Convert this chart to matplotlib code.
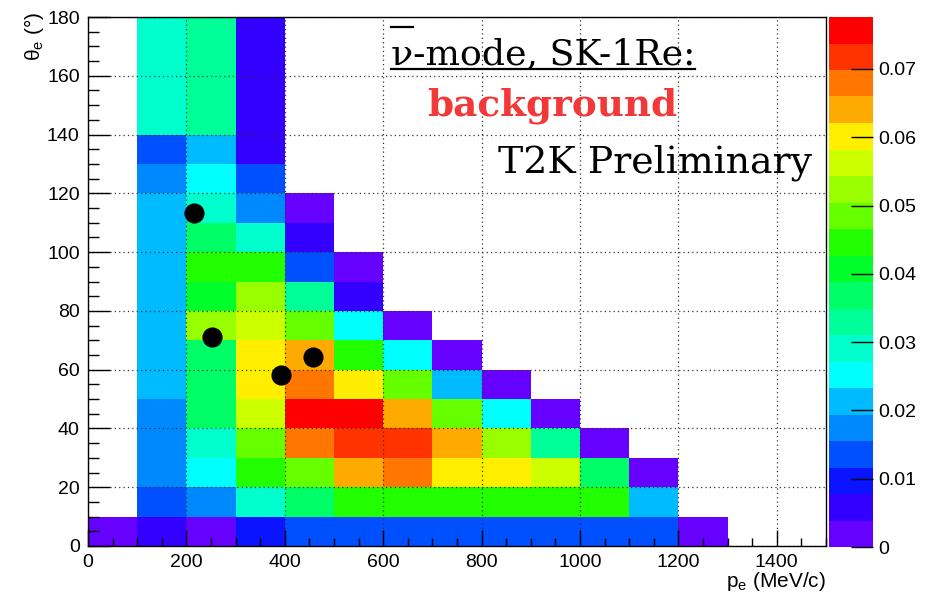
import numpy as np
import matplotlib
matplotlib.use("Agg")
import matplotlib.pyplot as plt
from matplotlib.colors import ListedColormap, BoundaryNorm
from matplotlib.ticker import MultipleLocator, FuncFormatter
from matplotlib.lines import Line2D

W, H = 931, 597
plt.rcParams["font.family"] = ["Liberation Sans", "DejaVu Sans"]
plt.rcParams["mathtext.fontset"] = "custom"
plt.rcParams["mathtext.rm"] = "Liberation Sans"
plt.rcParams["mathtext.it"] = "Liberation Sans:italic"

# ---------------- data ----------------
p_edges = [0, 100, 200, 300, 400, 500, 600, 700, 800, 900, 1000, 1100, 1200, 1300]
theta_edges = [0, 10, 20, 30, 40, 50, 60, 70, 80, 90, 100, 110, 120, 130, 140, 180]
n = np.nan
# one row per theta bin (bottom to top), one entry per p bin
density = [
    [0.0019, 0.0058, 0.0019, 0.0097, 0.0136, 0.0136, 0.0136, 0.0136, 0.0136, 0.0136, 0.0136, 0.0136, 0.0019],
    [n, 0.0136, 0.0175, 0.0291, 0.0369, 0.0446, 0.0446, 0.0446, 0.0446, 0.0446, 0.0446, 0.0213, n],
    [n, 0.0175, 0.0252, 0.0446, 0.0485, 0.0640, 0.0679, 0.0602, 0.0602, 0.0563, 0.0369, 0.0019, n],
    [n, 0.0175, 0.0291, 0.0485, 0.0679, 0.0718, 0.0718, 0.0640, 0.0524, 0.0330, 0.0019, n, n],
    [n, 0.0175, 0.0369, 0.0563, 0.0757, 0.0757, 0.0640, 0.0485, 0.0252, 0.0019, n, n, n],
    [n, 0.0213, 0.0369, 0.0602, 0.0679, 0.0602, 0.0485, 0.0213, 0.0019, n, n, n, n],
    [n, 0.0213, 0.0369, 0.0602, 0.0640, 0.0446, 0.0252, 0.0019, n, n, n, n, n],
    [n, 0.0213, 0.0524, 0.0563, 0.0485, 0.0252, 0.0019, n, n, n, n, n, n],
    [n, 0.0213, 0.0407, 0.0524, 0.0330, 0.0058, n, n, n, n, n, n, n],
    [n, 0.0213, 0.0446, 0.0446, 0.0136, 0.0019, n, n, n, n, n, n, n],
    [n, 0.0213, 0.0369, 0.0291, 0.0058, n, n, n, n, n, n, n, n],
    [n, 0.0213, 0.0291, 0.0175, 0.0019, n, n, n, n, n, n, n, n],
    [n, 0.0175, 0.0252, 0.0136, n, n, n, n, n, n, n, n, n],
    [n, 0.0136, 0.0213, 0.0058, n, n, n, n, n, n, n, n, n],
    [n, 0.0291, 0.0330, 0.0058, n, n, n, n, n, n, n, n, n],
]
z_max = 0.0776
cbar_ticks = [0, 0.01, 0.02, 0.03, 0.04, 0.05, 0.06, 0.07]
x_ticks = [0, 200, 400, 600, 800, 1000, 1200, 1400]
y_ticks = [0, 20, 40, 60, 80, 100, 120, 140, 160, 180]

data_p = [215, 252, 392, 457]
data_theta = [113.3, 71.1, 58.2, 64.3]

palette = ["#6600ff", "#3300ff", "#0a14ff", "#0050ff", "#0088ff", "#00bbff",
           "#00ffff", "#00ffcc", "#00ff99", "#00ff66", "#00ff2a", "#22ff00",
           "#66ff00", "#99ff00", "#ccff00", "#ffee00", "#ffaa00", "#ff7700",
           "#ff3300", "#ff0000"]

# ---------------- figure ----------------
fig = plt.figure(figsize=(W / 100, H / 100), dpi=100)
fig.patch.set_facecolor("white")

def fx(px):
    return px / W

def fy(py):
    return 1 - py / H

ax = fig.add_axes([fx(88), fy(546), (826 - 88) / W, (546 - 17) / H])

cmap = ListedColormap(palette)
levels = np.linspace(0, z_max, len(palette) + 1)
norm = BoundaryNorm(levels, cmap.N)
Z = np.ma.masked_invalid(np.array(density, dtype=float))
mesh = ax.pcolormesh(p_edges, theta_edges, Z, cmap=cmap, norm=norm,
                     shading="flat", zorder=1)

ax.plot(data_p, data_theta, "o", color="black", ms=13.5, zorder=4)

ax.set_xlim(0, 1500)
ax.set_ylim(0, 180)
ax.set_xticks(x_ticks)
ax.set_yticks(y_ticks)
ax.xaxis.set_minor_locator(MultipleLocator(50))
ax.yaxis.set_minor_locator(MultipleLocator(5))
ax.tick_params(axis="both", which="both", direction="in", top=False, right=False,
               labelsize=14, width=1, colors="black")
ax.tick_params(axis="x", which="major", length=11.5, pad=6)
ax.tick_params(axis="x", which="minor", length=5.8)
ax.tick_params(axis="y", which="major", length=16, pad=6)
ax.tick_params(axis="y", which="minor", length=8)
ax.grid(True, which="major", color="#333333", linestyle=(0, (1, 2.5)), linewidth=0.9)
ax.set_axisbelow(False)
for s in ax.spines.values():
    s.set_linewidth(1.0)
    s.set_zorder(5)

# colour bar
cax = fig.add_axes([fx(829), fy(547), 44 / W, (547 - 17) / H])
cb = fig.colorbar(mesh, cax=cax, ticks=cbar_ticks)
cb.outline.set_visible(False)
cax.tick_params(direction="in", length=16, width=1, labelsize=14, pad=4)
cb.ax.yaxis.set_major_formatter(FuncFormatter(lambda v, p: "0" if v == 0 else f"{v:.2f}"))
cb.ax.minorticks_off()

# axis titles
fig.text(fx(34), fy(12), r"θ$_\mathrm{e}$ (°)", rotation=90, ha="center", va="top", fontsize=15)
fig.text(fx(826), fy(587), r"p$_\mathrm{e}$ (MeV/c)", ha="right", va="baseline", fontsize=15)

# annotations
t1 = fig.text(fx(391), fy(64), "ν-mode, SK-1Re:", family="DejaVu Serif",
              fontsize=26.2, ha="left", va="baseline")
t2 = fig.text(fx(427), fy(115), "background", family="DejaVu Serif", weight="bold",
              fontsize=26.9, color="#f23838", ha="left", va="baseline")
t3 = fig.text(fx(498), fy(172), "T2K Preliminary", family="DejaVu Serif",
              fontsize=27.3, ha="left", va="baseline")

fig.canvas.draw()
r = fig.canvas.get_renderer()
bb = t1.get_window_extent(r)
nu = fig.text(0, 0, "ν", family="DejaVu Serif", fontsize=26.2)
nb = nu.get_window_extent(r)
nu.remove()
y_under = fy(69)
fig.add_artist(Line2D([bb.x0 / W, bb.x1 / W], [y_under, y_under],
                      transform=fig.transFigure, color="black", lw=1.6))
y_bar = fy(27)
fig.add_artist(Line2D([bb.x0 / W, (bb.x0 + nb.width) / W], [y_bar, y_bar],
                      transform=fig.transFigure, color="black", lw=1.6))

fig.savefig("out.png", dpi=100)
